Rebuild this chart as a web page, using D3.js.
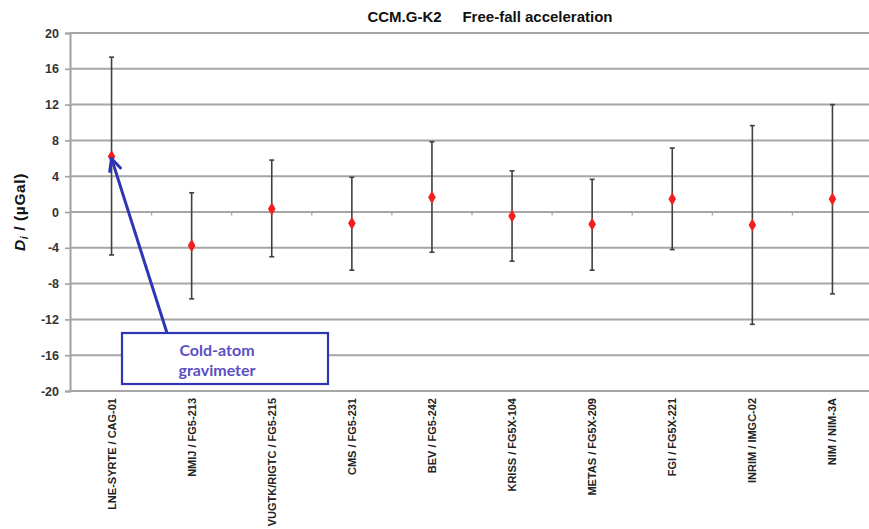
<!DOCTYPE html>
<html>
<head>
<meta charset="utf-8">
<script src="https://cdn.jsdelivr.net/npm/d3@7/dist/d3.min.js"></script>
<style>
html,body{margin:0;padding:0;background:#fff;}
svg{display:block;font-family:"Liberation Sans",Arial,sans-serif;}
</style>
</head>
<body>
<svg id="chart" width="869" height="529"></svg>
<script>
const categories = ["LNE-SYRTE / CAG-01","NMIJ / FG5-213","VUGTK/RIGTC / FG5-215","CMS / FG5-231","BEV / FG5-242","KRISS / FG5X-104","METAS / FG5X-209","FGI / FG5X-221","INRIM / IMGC-02","NIM / NIM-3A"];
const values = [6.2, -3.75, 0.35, -1.27, 1.64, -0.45, -1.37, 1.45, -1.45, 1.45];
const upper  = [17.3, 2.15, 5.8, 3.88, 7.85, 4.6, 3.65, 7.15, 9.65, 12.0];
const lower  = [-4.8, -9.7, -5.0, -6.5, -4.5, -5.5, -6.5, -4.2, -12.55, -9.15];
const yTicks = [20,16,12,8,4,0,-4,-8,-12,-16,-20];
const title = "CCM.G-K2     Free-fall acceleration";
const noteLines = ["Cold-atom","gravimeter"];

(function(){
const svg = d3.select("#chart");
const mLeft = 70, mRight = 869, mTop = 33, mBottom = 391;
const x = d3.scaleBand().domain(categories).range([71.5, 872.5]).padding(0);
const y = d3.scaleLinear().domain([-20, 20]).range([mBottom, mTop]);

// y axis
const yAxis = d3.axisLeft(y).tickValues(yTicks).tickSize(5).tickPadding(6).tickFormat(d => String(d));
const gy = svg.append("g").attr("transform", `translate(${mLeft},0)`).call(yAxis);
gy.select(".domain").attr("stroke", "#a0a0a0").attr("stroke-width", 2);
gy.selectAll(".tick line").attr("stroke", "#a0a0a0").attr("stroke-width", 1.6);
gy.selectAll(".tick text").attr("font-size", 12.5).attr("font-weight", "bold").attr("fill", "#333")
  .attr("font-family", "'Liberation Sans',Arial,sans-serif");

// horizontal gridlines, drawn as one path
const gridPath = yTicks.map(d => `M${mLeft},${y(d)}H${mRight}`).join("");
svg.append("path").attr("class", "grid").attr("d", gridPath)
  .attr("fill", "none").attr("stroke", "#a6a6a6").attr("stroke-width", 2);

// category ticks on zero line
svg.append("g").selectAll("line").data(categories.slice(1)).join("line")
  .attr("x1", d => x(d)).attr("x2", d => x(d))
  .attr("y1", y(0)).attr("y2", y(0) + 3.5)
  .attr("stroke", "#a0a0a0").attr("stroke-width", 1.2);

// x labels
svg.append("g").selectAll("text").data(categories).join("text")
  .attr("transform", d => `translate(${x(d) + x.bandwidth()/2 + 4},398) rotate(-90)`)
  .attr("text-anchor", "end")
  .attr("font-size", 11).attr("font-weight", "bold").attr("fill", "#222")
  .text(d => d);

// error bars
const eb = svg.append("g");
categories.forEach((c, i) => {
  const cx = x(c) + x.bandwidth()/2;
  eb.append("line").attr("x1", cx).attr("x2", cx).attr("y1", y(upper[i])).attr("y2", y(lower[i]))
    .attr("stroke", "#404040").attr("stroke-width", 1.6);
  [upper[i], lower[i]].forEach(v => {
    eb.append("line").attr("x1", cx - 2.5).attr("x2", cx + 2.5).attr("y1", y(v)).attr("y2", y(v))
      .attr("stroke", "#404040").attr("stroke-width", 1.6);
  });
});

// points
svg.append("g").selectAll("path").data(categories).join("path")
  .attr("transform", (d, i) => `translate(${x(d) + x.bandwidth()/2},${y(values[i])})`)
  .attr("d", d3.symbol().type(d3.symbolDiamond).size(50))
  .attr("fill", "#f02020");

// title
svg.append("text").attr("x", 490).attr("y", 22).attr("text-anchor", "middle")
  .attr("font-size", 15).attr("font-weight", "bold").attr("fill", "#111")
  .style("white-space", "pre").text(title);

// y label
const yl = svg.append("text").attr("transform", "translate(25,212) rotate(-90)")
  .attr("text-anchor", "middle").attr("font-size", 15.5).attr("font-weight", "bold").attr("fill", "#111")
  .attr("letter-spacing", 0.6);
yl.append("tspan").attr("font-style", "italic").text("D");
yl.append("tspan").attr("font-style", "italic").attr("font-size", 10.5).attr("dy", 3).text("i");
yl.append("tspan").attr("dy", -3).text(" / (µGal)");

// annotation
const blue = "#2e36b4";
const tipX = x(categories[0]) + x.bandwidth()/2, tipY = y(values[0]) + 2;
svg.append("line").attr("x1", 167).attr("y1", 333).attr("x2", tipX).attr("y2", tipY)
  .attr("stroke", blue).attr("stroke-width", 3);
const ang = Math.atan2(333 - tipY, 167 - tipX);
[0.45, -0.45].forEach(a => {
  svg.append("line").attr("x1", tipX).attr("y1", tipY)
    .attr("x2", tipX + 13 * Math.cos(ang + a)).attr("y2", tipY + 13 * Math.sin(ang + a))
    .attr("stroke", blue).attr("stroke-width", 3).attr("stroke-linecap", "round");
});
svg.append("rect").attr("x", 122).attr("y", 333).attr("width", 206).attr("height", 51)
  .attr("fill", "#fff").attr("stroke", blue).attr("stroke-width", 2.2);
svg.append("g").selectAll("text").data(noteLines).join("text")
  .attr("x", 217).attr("y", (d, i) => 356 + i * 20).attr("text-anchor", "middle")
  .attr("font-family", "Lato, 'Open Sans', sans-serif").attr("font-size", 16).attr("font-weight", "bold")
  .attr("fill", "#5b4fc4").text(d => d);
})();
</script>
</body>
</html>
